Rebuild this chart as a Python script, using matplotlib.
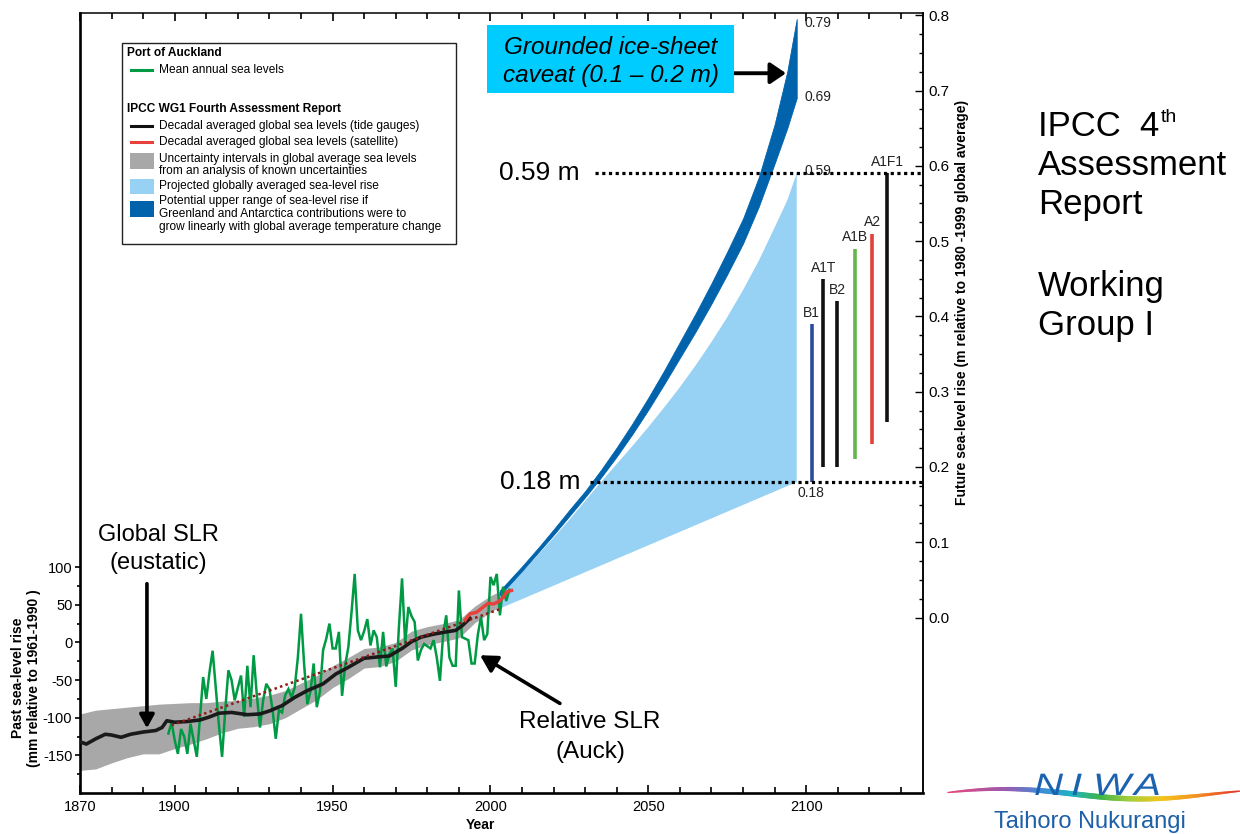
import numpy as np
import matplotlib
matplotlib.use("Agg")
import matplotlib.pyplot as plt
from matplotlib.patches import Rectangle, PathPatch
from matplotlib.collections import LineCollection
from matplotlib.colors import LinearSegmentedColormap
from matplotlib.ticker import FixedLocator
from matplotlib.textpath import TextPath
from matplotlib.font_manager import FontProperties
from matplotlib.transforms import Affine2D

plt.rcParams['font.family'] = ['Liberation Sans', 'DejaVu Sans']
plt.rcParams['axes.unicode_minus'] = False

# ---------------- data ----------------
# Port of Auckland mean annual sea level (mm relative to 1961-1990)
auck_years = list(range(1898, 2007))
auck_mm = [
    -121, -106, -130, -148, -115, -125, -148, -108, -130, -152,   # 1898-1907
    -100, -46, -75, -40, -11, -60, -110, -152, -90, -37,          # 1908-1917
    -50, -77, -60, -44, -99, -31, -86, -17, -70, -113,            # 1918-1927
    -77, -55, -62, -90, -128, -90, -93, -70, -62, -73,            # 1928-1937
    -60, -20, 38, -30, -82, -65, -28, -86, -65, -10,              # 1938-1947
    5, 25, -8, -8, 14, -71, -30, -6, 40, 91,                      # 1948-1957
    16, 3, 15, 31, -4, 16, 7, -33, 14, -32,                       # 1958-1967
    -15, -8, -59, 20, 85, -2, 47, 35, 27, -24,                    # 1968-1977
    -10, -2, -5, -8, 3, -20, -51, 10, 36, -20,                    # 1978-1987
    -31, -31, 69, 7, 5, 3, -28, -28, 10, 34,                      # 1988-1997
    3, 11, 87, 76, 91, 36, 74, 55, 70]                            # 1998-2006

# Decadal averaged global sea level, tide gauges (mm)
black_years = [1870, 1872, 1875, 1878, 1880, 1883, 1886, 1890, 1894, 1896, 1897.5,
               1900, 1904, 1908, 1911, 1914, 1918, 1923, 1927, 1930, 1934, 1938,
               1942, 1947, 1951, 1955, 1960, 1965, 1968, 1972, 1975, 1978, 1982,
               1986, 1989, 1991, 1993.5]
black_mm = [-132, -135, -128, -122, -123, -126, -122, -119, -117, -113, -104,
            -106, -105, -103, -99, -94, -93, -96, -95, -91, -84, -73,
            -64, -55, -42, -33, -21, -19, -18, -8, 1, 7, 11,
            14, 16, 22, 32]

# Decadal averaged global sea level, satellite (mm)
red_years = [1992, 1993.5, 1995.6, 1997.7, 1999.3, 2000.9, 2002.5, 2004.1, 2005.1, 2006.7]
red_mm = [30, 38, 40, 47, 52, 51, 54, 60, 67, 69]

# Uncertainty band (mm)
band_years = [1870, 1875, 1880, 1885, 1890, 1895, 1900, 1905, 1910, 1915, 1920, 1925,
              1930, 1935, 1940, 1945, 1950, 1955, 1960, 1965, 1970, 1975, 1980, 1985,
              1990, 1995, 2000, 2003]
band_upper = [-95, -90, -88, -86, -84, -82, -81, -80, -80, -78, -77, -74,
              -70, -64, -54, -44, -31, -20, -8, -6, 0, 15, 21, 25,
              30, 48, 62, 68]
band_lower = [-170, -168, -160, -153, -148, -148, -141, -135, -128, -120, -114, -112,
              -108, -100, -88, -76, -60, -48, -34, -32, -25, -10, -3, 1,
              6, 26, 40, 48]

# Linear trend (dotted)
trend_years = [1899, 2003.5]
trend_mm = [-110, 45]

# Projections (m relative to 1980-1999)
proj_years = [2003, 2010, 2015, 2020, 2025, 2030, 2035, 2040, 2045, 2050,
              2055, 2060, 2065, 2070, 2075, 2080, 2085, 2090, 2094, 2097]
proj_high_m = [0.033, 0.060, 0.083, 0.106, 0.130, 0.155, 0.180, 0.204, 0.228, 0.253,
               0.279, 0.306, 0.335, 0.366, 0.399, 0.435, 0.474, 0.518, 0.554, 0.590]
upper_top_m = [0.036, 0.068, 0.092, 0.117, 0.143, 0.168, 0.196, 0.226, 0.258, 0.292,
               0.328, 0.366, 0.404, 0.444, 0.486, 0.530, 0.585, 0.655, 0.725, 0.795]
upper_bot_m = [0.030, 0.062, 0.086, 0.110, 0.135, 0.160, 0.186, 0.214, 0.244, 0.276,
               0.310, 0.345, 0.380, 0.417, 0.456, 0.497, 0.546, 0.603, 0.650, 0.690]
proj_low_years = [2003, 2097]
proj_low_m = [0.012, 0.180]

# SRES scenario ranges at 2090-2099 (m)
scen_names = ['B1', 'A1T', 'B2', 'A1B', 'A2', 'A1F1']
scen_x = [2101.7, 2105.4, 2109.8, 2115.4, 2121.0, 2125.7]
scen_low = [0.18, 0.20, 0.20, 0.21, 0.23, 0.26]
scen_high = [0.39, 0.45, 0.42, 0.49, 0.51, 0.59]
scen_colors = ['#2B4B9B', '#111111', '#111111', '#63B54E', '#E2403A', '#111111']

OFFSET_MM = 33   # 1961-1990 vs 1980-1999 baseline difference


def to_mm(m):
    return np.asarray(m) * 1000.0 + OFFSET_MM


# ---------------- figure ----------------
W, H = 1240, 834
fig = plt.figure(figsize=(W / 100, H / 100), dpi=100)
L0, R0, T0, B0 = 80, 923, 13, 793
ax = fig.add_axes([L0 / W, 1 - B0 / H, (R0 - L0) / W, (B0 - T0) / H])
YLO, YHI = -200, 836
ax.set_xlim(1870, 2137)
ax.set_ylim(YLO, YHI)

GRAY = '#A8A8A8'
LBLUE = '#97D1F4'
DBLUE = '#0063AC'
GREEN = '#009A44'
RED = '#E8403A'

ax.fill_between(band_years, band_lower, band_upper, color=GRAY, lw=0, zorder=1)

# projected range (light blue)
poly_x = list(proj_years) + proj_low_years[::-1]
poly_y = list(to_mm(proj_high_m)) + list(to_mm(proj_low_m)[::-1])
ax.fill(poly_x, poly_y, color=LBLUE, lw=0, zorder=1)
# upper range (dark blue)
ax.fill_between(proj_years, to_mm(upper_bot_m), to_mm(upper_top_m), color=DBLUE, lw=0.6,
                edgecolor=DBLUE, zorder=2)

ax.plot(auck_years, auck_mm, color=GREEN, lw=1.8, zorder=3, solid_joinstyle='miter')
ax.plot(black_years, black_mm, color='#1A1A1A', lw=2.6, zorder=4)
ax.plot(trend_years, trend_mm, color='#8E1A1A', lw=1.8, dashes=(1, 1.3), zorder=5)
ax.plot(red_years, red_mm, color=RED, lw=2.4, zorder=6)

# axis styling
for side in ['left', 'bottom']:
    ax.spines[side].set_linewidth(1.9)
for side in ['top', 'right']:
    ax.spines[side].set_linewidth(1.1)

ax.xaxis.set_major_locator(FixedLocator([1870, 1900, 1950, 2000, 2050, 2100]))
ax.xaxis.set_minor_locator(FixedLocator(list(range(1880, 2131, 10))))
ax.tick_params(axis='x', which='both', direction='in', top=True, bottom=True,
               labelsize=10.5, pad=5, width=1.2)
ax.tick_params(axis='x', which='major', length=5.5)
ax.tick_params(axis='x', which='minor', length=4)
ax.yaxis.set_major_locator(FixedLocator([-150, -100, -50, 0, 50, 100]))
ax.yaxis.set_minor_locator(FixedLocator([-175, -125, -75, -25, 25, 75]))
ax.tick_params(axis='y', which='both', direction='out', left=True, right=False,
               labelsize=10.5, pad=2, width=1.2)
ax.tick_params(axis='y', which='major', length=3.5)
ax.tick_params(axis='y', which='minor', length=2.5)

# right axis (future, metres)
ax2 = ax.twinx()
ax2.set_ylim((YLO - OFFSET_MM) / 1000, (YHI - OFFSET_MM) / 1000)
for side in ['left', 'top', 'bottom']:
    ax2.spines[side].set_visible(False)
ax2.spines['right'].set_linewidth(1.1)
ax2.yaxis.set_major_locator(FixedLocator(list(np.round(np.arange(0, 0.81, 0.1), 2))))
ax2.yaxis.set_minor_locator(FixedLocator(list(np.round(np.arange(0.025, 0.8, 0.025), 3))))
ax2.set_yticklabels(['%.1f' % v for v in np.arange(0, 0.81, 0.1)])
ax2.tick_params(axis='y', which='major', direction='in', length=6, width=1.0,
                labelsize=11, pad=4)
ax2.tick_params(axis='y', which='minor', direction='in', length=3.2, width=1.0)

# scenario bars
for name, x, lo, hi, c in zip(scen_names, scen_x, scen_low, scen_high, scen_colors):
    ax2.vlines(x, lo, hi, color=c, lw=2.6, zorder=5)
    ax2.annotate(name, (x, hi), xytext=(0, 3), textcoords='offset points',
                 ha='center', va='bottom', fontsize=10, color='#222222')

# dotted reference lines
ax2.plot([2033.1, 2137], [0.59, 0.59], color='k', lw=2.3, dashes=(1, 1.1), zorder=7,
         clip_on=False)
ax2.plot([2031.5, 2137], [0.18, 0.18], color='k', lw=2.3, dashes=(1, 1.1), zorder=7,
         clip_on=False)
ax2.text(2028.4, 0.59, '0.59 m', ha='right', va='center', fontsize=19)
ax2.text(2028.4, 0.18, '0.18 m', ha='right', va='center', fontsize=19)
for txt, xv, yv in [('0.79', 2099.5, 0.790), ('0.69', 2099.5, 0.691),
                    ('0.59', 2099.5, 0.593), ('0.18', 2097.2, 0.166)]:
    ax2.text(xv, yv, txt, ha='left', va='center', fontsize=10, color='#222222', zorder=6)

# arrows
ax2.annotate('', xy=(2093.6, 0.723), xytext=(2077.2, 0.723),
             arrowprops=dict(arrowstyle='-|>,head_length=0.47,head_width=0.32',
                             mutation_scale=20, lw=2.8, color='k',
                             shrinkA=0, shrinkB=0), zorder=8)
ax.annotate('', xy=(1891.2, -114), xytext=(1891.2, 78),
            arrowprops=dict(arrowstyle='-|>,head_length=0.4,head_width=0.22',
                            mutation_scale=20, lw=2.6, color='k',
                            shrinkA=0, shrinkB=0), zorder=8)
ax.annotate('', xy=(1996.7, -17), xytext=(2022.0, -81),
            arrowprops=dict(arrowstyle='-|>,head_length=0.5,head_width=0.28',
                            mutation_scale=20, lw=2.6, color='k',
                            shrinkA=0, shrinkB=0), zorder=8)

# ---------------- overlay (pixel coordinates) ----------------
ov = fig.add_axes([0, 0, 1, 1], zorder=10)
ov.set_xlim(0, W)
ov.set_ylim(H, 0)
ov.axis('off')

# axis labels
ov.text(480, 825, 'Year', ha='center', va='center', fontsize=10, fontweight='bold')
ov.text(18, 678, 'Past sea-level rise', rotation=90, ha='center', va='center',
        fontsize=10, fontweight='bold')
ov.text(34, 678, '(mm relative to 1961-1990 )', rotation=90, ha='center', va='center',
        fontsize=10, fontweight='bold')
ov.text(962, 302, 'Future sea-level rise (m relative to 1980 -1999 global average)',
        rotation=90, ha='center', va='center', fontsize=10, fontweight='bold')

# legend box
ov.add_patch(Rectangle((121.5, 42.5), 334, 201, fc='white', ec='#222222', lw=1.0))
LF = 8.6
ov.text(127, 53, 'Port of Auckland', fontsize=LF, fontweight='bold', va='center')
ov.plot([131, 152], [70, 70], color=GREEN, lw=2.2)
ov.text(159, 70, 'Mean annual sea levels', fontsize=LF, va='center')
ov.text(127, 109, 'IPCC WG1 Fourth Assessment Report', fontsize=LF, fontweight='bold',
        va='center')
ov.plot([131, 152], [126, 126], color='#111111', lw=2.2)
ov.text(159, 126, 'Decadal averaged global sea levels (tide gauges)', fontsize=LF, va='center')
ov.plot([131, 152], [142, 142], color=RED, lw=2.2)
ov.text(159, 142, 'Decadal averaged global sea levels (satellite)', fontsize=LF, va='center')
ov.add_patch(Rectangle((130, 153), 24, 16, fc=GRAY, lw=0))
ov.text(159, 159, 'Uncertainty intervals in global average sea levels', fontsize=LF,
        va='center')
ov.text(159, 171, 'from an analysis of known uncertainties', fontsize=LF, va='center')
ov.add_patch(Rectangle((130, 179), 24, 15, fc=LBLUE, lw=0))
ov.text(159, 186, 'Projected globally averaged sea-level rise', fontsize=LF, va='center')
ov.add_patch(Rectangle((130, 201), 24, 16, fc=DBLUE, lw=0))
ov.text(159, 201, 'Potential upper range of sea-level rise if', fontsize=LF, va='center')
ov.text(159, 214, 'Greenland and Antarctica contributions were to', fontsize=LF,
        va='center')
ov.text(159, 227, 'grow linearly with global average temperature change', fontsize=LF,
        va='center')

# caveat box
ov.add_patch(Rectangle((487, 25), 247, 68, fc='#00CCFF', lw=0))
ov.text(611, 47, 'Grounded ice-sheet', ha='center', va='center', fontsize=17.5,
        style='italic')
ov.text(611, 75, 'caveat (0.1 \u2013 0.2 m)', ha='center', va='center', fontsize=17.5,
        style='italic')

# annotations
ov.text(158, 535, 'Global SLR', ha='center', va='center', fontsize=17)
ov.text(158, 563, '(eustatic)', ha='center', va='center', fontsize=17)
ov.text(590, 722, 'Relative SLR', ha='center', va='center', fontsize=17.5)
ov.text(590, 752, '(Auck)', ha='center', va='center', fontsize=17.5)

# right-hand title
RF = 25
ov.text(1038, 136, 'IPCC  4', ha='left', va='baseline', fontsize=RF)
ov.text(1161, 122, 'th', ha='left', va='baseline', fontsize=14)
ov.text(1038, 175, 'Assessment', ha='left', va='baseline', fontsize=RF)
ov.text(1038, 214, 'Report', ha='left', va='baseline', fontsize=RF)
ov.text(1038, 296, 'Working', ha='left', va='baseline', fontsize=RF)
ov.text(1038, 335, 'Group I', ha='left', va='baseline', fontsize=RF)

# NIWA logo (decoration)
sw_x = np.linspace(948, 1240, 120)
sw_y = 794 - 5 * np.sin((sw_x - 948) / 292 * 2 * np.pi * 1.05 + 0.3)
pts = np.column_stack([sw_x, sw_y]).reshape(-1, 1, 2)
segs = np.concatenate([pts[:-1], pts[1:]], axis=1)
cmap = LinearSegmentedColormap.from_list('rb', [
    (0.0, '#E8457E'), (0.2, '#9A5BB0'), (0.33, '#3C8ED8'), (0.43, '#1FB3C0'),
    (0.53, '#3DB54A'), (0.63, '#A6CE39'), (0.74, '#F4C51C'), (0.86, '#F39223'),
    (1.0, '#E6332A')])
frac = np.linspace(0, 1, len(segs))
widths = 1.0 + 3.0 * np.sin(np.pi * frac) ** 0.8
ov.add_collection(LineCollection(segs, colors=cmap(frac), linewidths=widths,
                                 capstyle='round'))
fp = FontProperties(family='Liberation Sans', style='italic')
for ch, xl in zip('NIWA', [1034, 1071, 1093, 1134]):
    tp = TextPath((0, 0), ch, size=31, prop=fp)
    tr = Affine2D().scale(1.3, -1).translate(xl, 795)
    ov.add_patch(PathPatch(tr.transform_path(tp), fc='#1B62B0', lw=0, zorder=3))
ov.text(994, 822, 'Taihoro Nukurangi', ha='left', va='center', fontsize=17,
        color='#1D5FA9')

fig.savefig('out.png', dpi=100)
